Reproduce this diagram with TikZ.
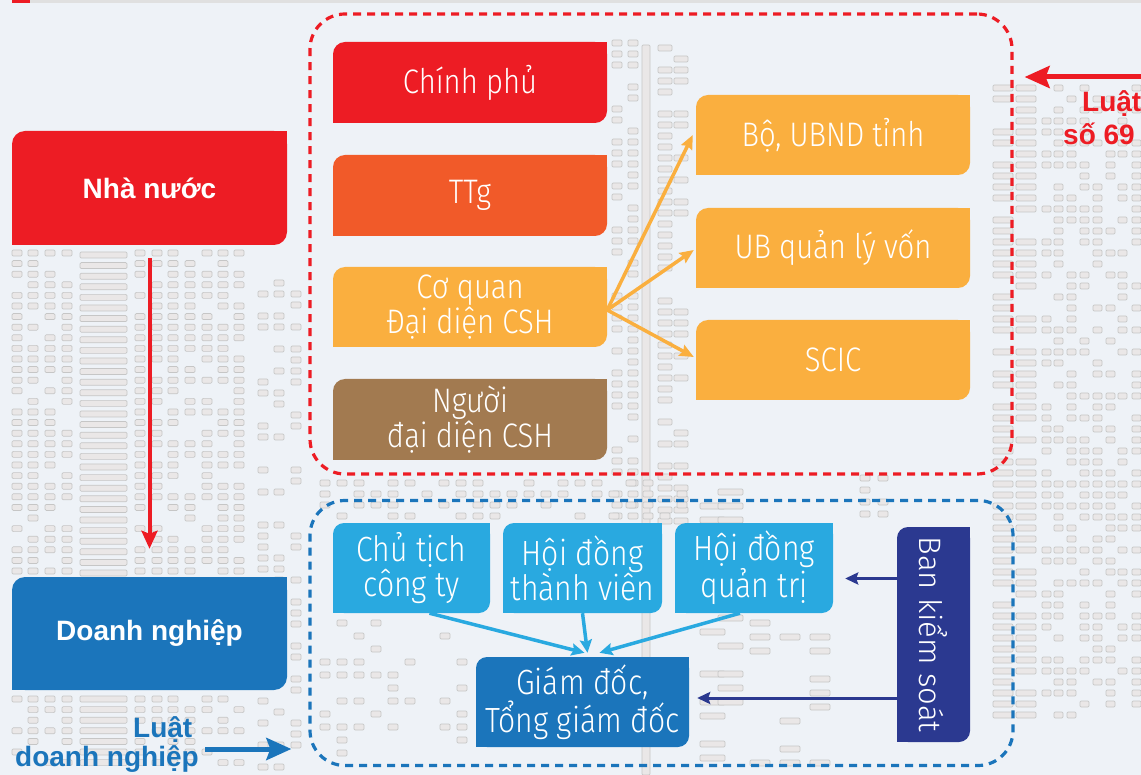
\documentclass[tikz,border=0pt]{standalone}
\usepackage{fontspec}
\usetikzlibrary{arrows.meta,calc}
\newfontfamily\boxf[FakeStretch=0.86]{Fira Sans Light}
\newfontfamily\boxw{Fira Sans Light}
\newfontfamily\hbold{Liberation Sans}
\definecolor{cred}{HTML}{ED1C24}
\definecolor{corange}{HTML}{F15A29}
\definecolor{cyellow}{HTML}{FAAF3F}
\definecolor{cbrown}{HTML}{A27A50}
\definecolor{cblue}{HTML}{1B75BB}
\definecolor{clight}{HTML}{29A9E0}
\definecolor{cnavy}{HTML}{2B3990}
\definecolor{cbg}{HTML}{EEF2F7}
\definecolor{ccellf}{HTML}{EAE7E7}
\definecolor{ccelld}{HTML}{C6C6C6}
% [style] name, cx, cy, w, h, colour, radius, text
\newcommand\leafbox[9][boxtext]{%
  \fill[#7,rounded corners=#8pt] ({#3-#5/2},{#4-#6/2}) rectangle ({#3+#5/2},{#4+#6/2});
  \fill[#7] ({#3+#5/2-#8},{#4-#6/2}) rectangle ({#3+#5/2},{#4-#6/2+#8});
  \fill[#7] ({#3-#5/2},{#4+#6/2-#8}) rectangle ({#3-#5/2+#8},{#4+#6/2});
  \node[#1, minimum width=#5pt, minimum height=#6pt] (#2) at (#3,#4) {#9};}
% texture: x-list, y0, y0+dy, y1, width, keep-probability
\newcommand\texcells[6]{%
  \foreach \tx in {#1}{\foreach \ty in {#2,#3,...,#4}{%
    \pgfmathparse{rnd}%
    \ifdim\pgfmathresult pt<#6pt
      \filldraw[cellstyle] (\tx,\ty) rectangle ++(#5,6);
    \fi}}}
\begin{document}
\begin{tikzpicture}[x=1pt,y=-1pt,
  cellstyle/.style={fill=ccellf, draw=ccelld, line width=0.7pt, rounded corners=1.2pt},
  boxtext/.style={inner sep=0pt, text=white, align=center,
    font=\boxf\fontsize{34}{35}\selectfont},
  smalltext/.style={inner sep=0pt, text=white, align=center,
    font=\boxf\fontsize{35}{35}\selectfont},
  bigtext/.style={inner sep=0pt, text=white, align=center,
    font=\hbold\bfseries\fontsize{28}{32}\selectfont},
  rottext/.style={inner sep=0pt, text=white, align=center,
    font=\boxw\fontsize{31}{34}\selectfont},
  dashbox/.style={line width=3.2pt, dash pattern=on 8pt off 6pt, rounded corners=35pt, inner sep=0pt},
  lawtext/.style={inner sep=0pt, anchor=base west, font=\hbold\bfseries\fontsize{28}{30}\selectfont},
  redarrow/.style={draw=cred, line width=4pt, -{Stealth[length=18pt,width=16pt,inset=3pt]}},
  lawarrow/.style={line width=5pt, -{Stealth[length=25pt,width=22pt,inset=4pt]}},
  orarrow/.style={draw=cyellow, line width=3.5pt, -{Stealth[length=14pt,width=12pt,inset=2pt]}},
  ltarrow/.style={draw=clight, line width=3.5pt, -{Stealth[length=13pt,width=12pt,inset=2pt]}},
  nvarrow/.style={draw=cnavy, line width=3pt, -{Stealth[length=13pt,width=12pt,inset=2pt]}}
]
\useasboundingbox (0,0) rectangle (1141,775);
\clip (0,0) rectangle (1141,775);
\fill[cbg] (0,0) rectangle (1141,775);
\fill[black!12] (30,0) rectangle (1141,3);
\fill[cred] (12,0) rectangle (30,3);

% background texture (building windows)
\pgfmathsetseed{17}
\texcells{12,28,45,62,135,152,168,185,202,218,234}{250}{260.6}{572}{10}{0.85}
\foreach \ty in {252,262.6,...,572}{\filldraw[cellstyle] (80,\ty) rectangle ++(47,6);}
\texcells{12,28,45,62,135,152,168,185,202,218,234}{696}{706.6}{770}{10}{0.7}
\foreach \ty in {696,706.6,...,770}{\filldraw[cellstyle] (80,\ty) rectangle ++(47,6);}
\texcells{258,274,291}{280}{291}{770}{10}{0.5}
\texcells{612,628}{40}{51}{520}{10}{0.75}
\filldraw[cellstyle] (642,45) rectangle (650,775);
\texcells{658,674}{45}{56}{520}{14}{0.6}
\texcells{993,1016}{85}{96}{720}{20}{0.8}
\texcells{1042,1054,1067,1080,1093,1106,1118,1132}{85}{96}{720}{9}{0.65}
\texcells{320,337,354,371,388,405,422,439,456,473,490,507,524,541,558,575,592,609,626,643,660,677}{480}{491}{515}{10}{0.55}
\texcells{320,337,354,371,388,405,440,457}{620}{633}{760}{10}{0.35}
\texcells{700,718}{475}{489}{760}{25}{0.6}
\texcells{750,780,810}{620}{634}{760}{20}{0.4}
\texcells{860,878}{475}{487}{520}{10}{0.7}

% dashed frames
\node[dashbox, draw=cred, minimum width=702pt, minimum height=460pt] (govbox) at (661,244) {};
\node[dashbox, draw=cblue, minimum width=703pt, minimum height=265pt] (entbox) at (661.5,633) {};

% left boxes
\leafbox[bigtext]{nn}{149.5}{188}{275}{114}{cred}{13}{Nhà nước}
\leafbox[bigtext]{dn}{149.5}{633.5}{275}{113}{cblue}{13}{Doanh nghiệp}

% state boxes
\leafbox{cp}{470}{82.5}{274}{81}{cred}{12}{Chính phủ}
\leafbox{ttg}{470}{195.5}{274}{81}{corange}{12}{TTg}
\leafbox{cq}{470}{307}{274}{80}{cyellow}{12}{Cơ quan\\Đại diện CSH}
\leafbox{nd}{470}{419.5}{274}{81}{cbrown}{12}{Người\\đại diện CSH}
\leafbox{bo}{833}{135}{274}{80}{cyellow}{12}{Bộ, UBND tỉnh}
\leafbox{ub}{833}{248}{274}{80}{cyellow}{12}{UB quản lý vốn}
\leafbox{scic}{833}{360}{274}{80}{cyellow}{12}{SCIC}

% enterprise boxes
\leafbox[smalltext]{ct}{411.5}{568}{157}{90}{clight}{11}{Chủ tịch\\công ty}
\leafbox[smalltext]{tv}{582.5}{568}{159}{90}{clight}{11}{Hội đồng\\thành viên}
\leafbox[smalltext]{qt}{754}{568}{158}{90}{clight}{11}{Hội đồng\\quản trị}
\leafbox[smalltext]{gd}{582.5}{702}{213}{90}{cblue}{11}{Giám đốc,\\Tổng giám đốc}
\leafbox[rottext]{bks}{933.5}{634.5}{73}{215}{cnavy}{11}{\rotatebox{-90}{Ban kiểm soát}}

% connectors
\draw[redarrow] ([yshift=-13pt]nn.south) -- ([yshift=28pt]dn.north);
\draw[orarrow] ([yshift=-3pt]cq.east) -- ([xshift=-3pt]bo.west);
\draw[orarrow] ([yshift=-3pt]cq.east) -- ([xshift=-2pt,yshift=-2pt]ub.west);
\draw[orarrow] ([yshift=-3pt]cq.east) -- ([xshift=-2pt,yshift=3pt]scic.west);
\draw[ltarrow] ([xshift=18pt]ct.south) -- ([xshift=2pt,yshift=4pt]gd.north);
\draw[ltarrow] (tv.south) -- ([xshift=5pt,yshift=4pt]gd.north);
\draw[ltarrow] ([xshift=-14pt]qt.south) -- ([xshift=17pt,yshift=4pt]gd.north);
\coordinate (s1) at ([yshift=56pt]bks.west);
\coordinate (s2) at ([yshift=-63.5pt]bks.west);
\draw[nvarrow] (s1) -- ($(s1 -| qt.east)+(12,0)$);
\draw[nvarrow] (s2) -- ($(s2 -| gd.east)+(8,0)$);

% law labels
\coordinate (l69) at (1150,77);
\draw[lawarrow, draw=cred] (l69) -- ($(govbox.east |- l69)+(11,0)$);
\node[lawtext, text=cred] (luat69a) at (1082,112) {Luật};
\node[lawtext, text=cred] (luat69b) at (1063,145) {số 69};
\coordinate (ldn) at (205,749);
\draw[lawarrow, draw=cblue] (ldn) -- ($(entbox.west |- ldn)+(-17,0)$);
\node[lawtext, text=cblue] (luatdn) at (133,737) {Luật};
\node[lawtext, text=cblue] (luatdnb) at (15,766) {doanh nghiệp};
\end{tikzpicture}
\end{document}
